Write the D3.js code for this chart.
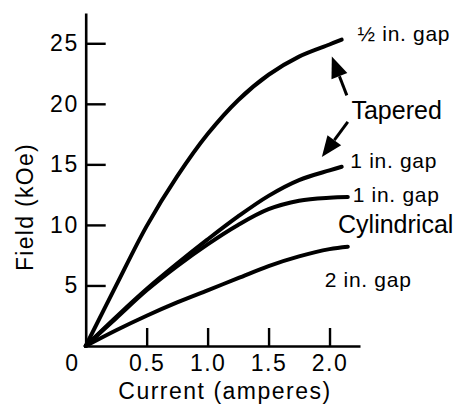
<!DOCTYPE html>
<html>
<head>
<meta charset="utf-8">
<script src="https://cdn.jsdelivr.net/npm/d3@7"></script>
<style>
  body { margin: 0; background: #fff; }
  text { font-family: "Liberation Sans", Arial, sans-serif; fill: #000; }
</style>
</head>
<body>
<div id="chart"></div>
<script>
// Data: [current (A), field (kOe)]
const taperedHalfInch = [[0, 0], [0.25, 5.0], [0.5, 9.9], [0.75, 14.0], [1.0, 17.5], [1.25, 20.3], [1.5, 22.4], [1.75, 23.9], [2.0, 24.9], [2.1, 25.3]];
const taperedOneInch = [[0, 0], [0.25, 2.4], [0.5, 4.7], [0.75, 6.8], [1.0, 8.8], [1.25, 10.7], [1.5, 12.4], [1.75, 13.7], [2.0, 14.5], [2.1, 14.8]];
const cylOneInch = [[0, 0], [0.25, 2.3], [0.5, 4.6], [0.75, 6.6], [1.0, 8.4], [1.25, 10.0], [1.5, 11.3], [1.75, 12.0], [2.0, 12.25], [2.15, 12.3]];
const cylTwoInch = [[0, 0], [0.25, 1.3], [0.5, 2.5], [0.75, 3.6], [1.0, 4.6], [1.25, 5.6], [1.5, 6.6], [1.75, 7.4], [2.0, 8.0], [2.15, 8.2]];

const xTicks = [0.5, 1.0, 1.5, 2.0];
const yTicks = [5, 10, 15, 20, 25];

// curve labels, anchored in data units (current, field)
const labelText = ["\u00bd in. gap", "Tapered", "1 in. gap", "1 in. gap", "Cylindrical", "2 in. gap"];
const labelAt = [[2.23, 25.2], [2.18, 18.75], [2.17, 14.7], [2.19, 11.9], [2.07, 9.3], [1.96, 4.9]];
const labelBig = [false, true, false, false, true, false];

// arrows from "Tapered" to the two tapered curves: [tailI, tailF, tipI, tipF]
const arrows = [[2.142, 20.7, 2.019, 23.9], [2.15, 18.5, 1.937, 15.6]];

const W = 461, H = 405;
const svg = d3.select("#chart").append("svg")
    .attr("width", W)
    .attr("height", H);

// Scales
const x = d3.scaleLinear().domain([0, 2.25]).range([85.7, 360]);
const y = d3.scaleLinear().domain([0, 27.5]).range([346, 13]);

// Y axis, ticks pointing inward
const yAxis = svg.append("g")
    .attr("transform", `translate(${x(0)},0)`)
    .call(d3.axisLeft(y).tickValues(yTicks).tickSizeInner(-20).tickSizeOuter(0).tickPadding(7));
yAxis.select(".domain").attr("stroke-width", 2.6);
yAxis.selectAll(".tick line").attr("stroke-width", 2.4);
yAxis.selectAll("text").style("font-size", "23px").style("letter-spacing", "1.5px");

// X axis
const xAxis = svg.append("g")
    .attr("transform", `translate(0,${y(0)})`)
    .call(d3.axisBottom(x).tickValues(xTicks).tickFormat(d3.format(".1f")).tickSizeInner(-18).tickSizeOuter(0).tickPadding(9));
xAxis.select(".domain").attr("stroke-width", 2.6);
xAxis.selectAll(".tick line").attr("stroke-width", 2.4);
xAxis.selectAll("text").style("font-size", "23px").style("letter-spacing", "1.5px");

// shared origin label
svg.append("text")
    .attr("x", x(0) - 14)
    .attr("y", y(0) + 25)
    .attr("text-anchor", "middle")
    .style("font-size", "23px")
    .text("0");

// Curves
const line = d3.line()
    .x(d => x(d[0]))
    .y(d => y(d[1]))
    .curve(d3.curveCatmullRom.alpha(0.5));

[taperedHalfInch, taperedOneInch, cylOneInch, cylTwoInch].forEach(s => {
    svg.append("path")
        .datum(s)
        .attr("fill", "none")
        .attr("stroke", "#000")
        .attr("stroke-width", 4)
        .attr("stroke-linecap", "round")
        .attr("d", line);
});

// Labels
labelText.forEach((t, i) => {
    svg.append("text")
        .attr("x", x(labelAt[i][0]))
        .attr("y", y(labelAt[i][1]))
        .style("font-size", labelBig[i] ? "25px" : "21px")
        .style("letter-spacing", labelBig[i] ? "0px" : "0.7px")
        .text(t);
});

// Arrows
arrows.forEach(a => {
    const x1 = x(a[0]), y1 = y(a[1]), x2 = x(a[2]), y2 = y(a[3]);
    const ang = Math.atan2(y2 - y1, x2 - x1);
    const len = 21, hw = 8.5;
    const bx = x2 - len * Math.cos(ang), by = y2 - len * Math.sin(ang);
    svg.append("line")
        .attr("x1", x1).attr("y1", y1)
        .attr("x2", bx).attr("y2", by)
        .attr("stroke", "#000")
        .attr("stroke-width", 3);
    const px = -Math.sin(ang) * hw, py = Math.cos(ang) * hw;
    svg.append("path")
        .attr("d", `M${x2},${y2}L${bx + px},${by + py}L${bx - px},${by - py}Z`)
        .attr("fill", "#000");
});

// Axis titles
svg.append("text")
    .attr("x", 225)
    .attr("y", 399)
    .attr("text-anchor", "middle")
    .style("font-size", "23px")
    .style("letter-spacing", "1.5px")
    .text("Current (amperes)");

svg.append("text")
    .attr("transform", "translate(33,207) rotate(-90)")
    .attr("text-anchor", "middle")
    .style("font-size", "23px")
    .style("letter-spacing", "1.3px")
    .text("Field (kOe)");
</script>
</body>
</html>
